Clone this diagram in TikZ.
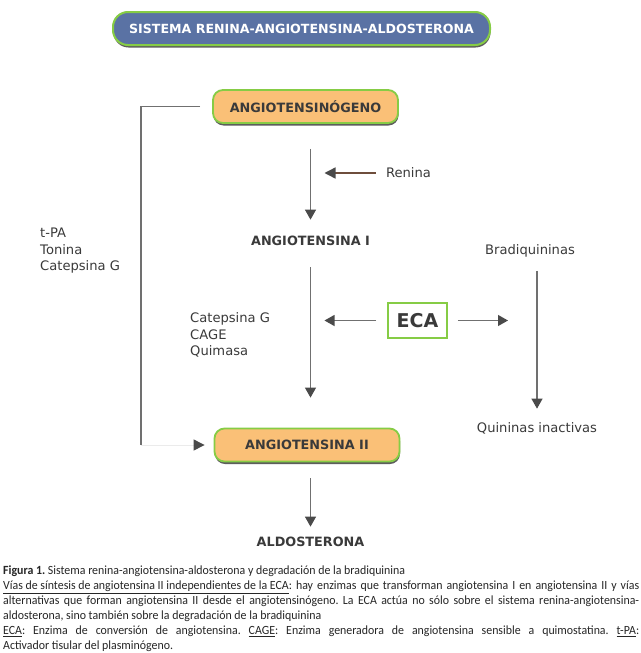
\documentclass[tikz,border=0pt]{standalone}
\usepackage{fontspec}
\setmainfont{DejaVu Sans}
\newfontfamily\capfont[FakeStretch=0.95]{Carlito}
\usetikzlibrary{arrows.meta,shadows}

\definecolor{titleblue}{HTML}{5A72A4}
\definecolor{boxorange}{HTML}{FAC077}
\definecolor{boxgreen}{HTML}{86CC45}
\definecolor{txtgray}{HTML}{3A3A3A}
\definecolor{linegray}{HTML}{707070}
\definecolor{tipgray}{HTML}{4A4A4A}
\definecolor{reninabrown}{HTML}{6E4E3C}

\tikzset{
  titlebox/.style={draw=boxgreen, line width=2pt, fill=titleblue, rounded corners=15pt,
    minimum width=377pt, minimum height=33pt, text=white,
    font=\fontsize{12.6}{14}\selectfont\bfseries,
    drop shadow={shadow xshift=0.5pt, shadow yshift=-2.5pt, fill=black!70, opacity=0.9}},
  pill/.style={draw=boxgreen, line width=1.8pt, fill=boxorange, rounded corners=10pt,
    minimum width=185pt, minimum height=33pt, text=txtgray,
    font=\fontsize{12.8}{14}\selectfont\bfseries,
    drop shadow={shadow xshift=0.5pt, shadow yshift=-2.5pt, fill=black!70, opacity=0.9}},
  ecabox/.style={draw=boxgreen, line width=1.8pt, fill=white,
    minimum width=59pt, minimum height=35pt, text=txtgray,
    font=\fontsize{19}{21}\selectfont\bfseries},
  bold/.style={text=txtgray, font=\fontsize{12.8}{14}\selectfont\bfseries},
  label/.style={text=txtgray, align=left, font=\fontsize{13.1}{16.5}\selectfont},
  caption/.style={text=black!85, text width=636pt, align=justify, inner sep=0pt,
    font=\capfont\fontsize{12.5}{15}\selectfont\frenchspacing},
  line/.style={draw=linegray, line width=1.1pt},
  arr/.style={draw=linegray, line width=1.1pt, -{Triangle[length=10pt,width=11pt,color=tipgray]}},
  reninaarr/.style={draw=reninabrown, line width=1.4pt, -{Triangle[length=11pt,width=11pt,color=tipgray]}},
  faint/.style={draw=black!8, line width=1pt, -{Triangle[length=11pt,width=11pt,color=tipgray]}}
}

\begin{document}
\begin{tikzpicture}[x=1pt,y=-1pt]
    \useasboundingbox[fill=white] (0,0) rectangle (640,653);

    \node[titlebox] (title) at (301.5,28.5) {SISTEMA RENINA-ANGIOTENSINA-ALDOSTERONA};

    \node[pill] (ango) at (305.5,106.5) {ANGIOTENSINÓGENO};
    \node[bold] (ang1) at (310.5,241) {ANGIOTENSINA I};
    \node[pill] (ang2) at (307,445) {ANGIOTENSINA II};
    \node[bold] (aldo) at (310.5,542) {ALDOSTERONA};
    \node[ecabox] (eca) at (417.5,320.5) {ECA};

    \node[label] (renina) at (408.5,173) {Renina};
    \node[label] (brad) at (530,251) {Bradiquininas};
    \node[label] (quin) at (537,428) {Quininas inactivas};
    \node[label, anchor=west] (enz1) at (186.7,335) {Catepsina G\\CAGE\\Quimasa};
    \node[label, anchor=west] (enz2) at (36.7,251) {t-PA\\Tonina\\Catepsina G};

    \draw[arr, shorten <=25pt, shorten >=13pt] (ango.south -| ang1.north) -- (ang1.north);
    \draw[reninaarr, shorten <=7pt, shorten >=14pt] (renina.west) -- (renina.west -| ang1.center);
    \draw[arr, shorten <=18pt, shorten >=30pt] (ang1.south) -- (ang1.south |- ang2.north);
    \draw[arr, shorten <=11pt, shorten >=14pt] (eca.west) -- (eca.west -| ang1.center);
    \draw[arr, shorten <=10pt, shorten >=29pt] (eca.east) -- (eca.east -| quin.center);
    \draw[arr, shorten <=10pt, shorten >=10pt] (brad.south -| quin.north) -- (quin.north);
    \draw[arr, shorten <=16pt, shorten >=7pt] (ang2.south -| aldo.north) -- (aldo.north);

    \coordinate (brk) at (141,445);
    \draw[line, shorten <=12pt] (ango.west) -| (brk);
    \draw[faint, shorten >=9pt] (brk) -- (ang2.west);

    \node[caption, anchor=north west] (cap) at (3,566) {%
      \textbf{Figura 1.} Sistema renina-angiotensina-aldosterona y degradación de la bradiquinina\\
      \underline{Vías de síntesis de angiotensina II independientes de la ECA}: hay enzimas que transforman angiotensina I en angiotensina II y vías\linebreak
      alternativas que forman angiotensina II desde el angiotensinógeno. La ECA actúa no sólo sobre el sistema renina-angiotensina-\linebreak
      aldosterona, sino también sobre la degradación de la bradiquinina\\
      \underline{ECA}: Enzima de conversión de angiotensina. \underline{CAGE}: Enzima generadora de angiotensina sensible a quimostatina. \underline{t-PA}:\linebreak
      Activador tisular del plasminógeno.};
\end{tikzpicture}
\end{document}
